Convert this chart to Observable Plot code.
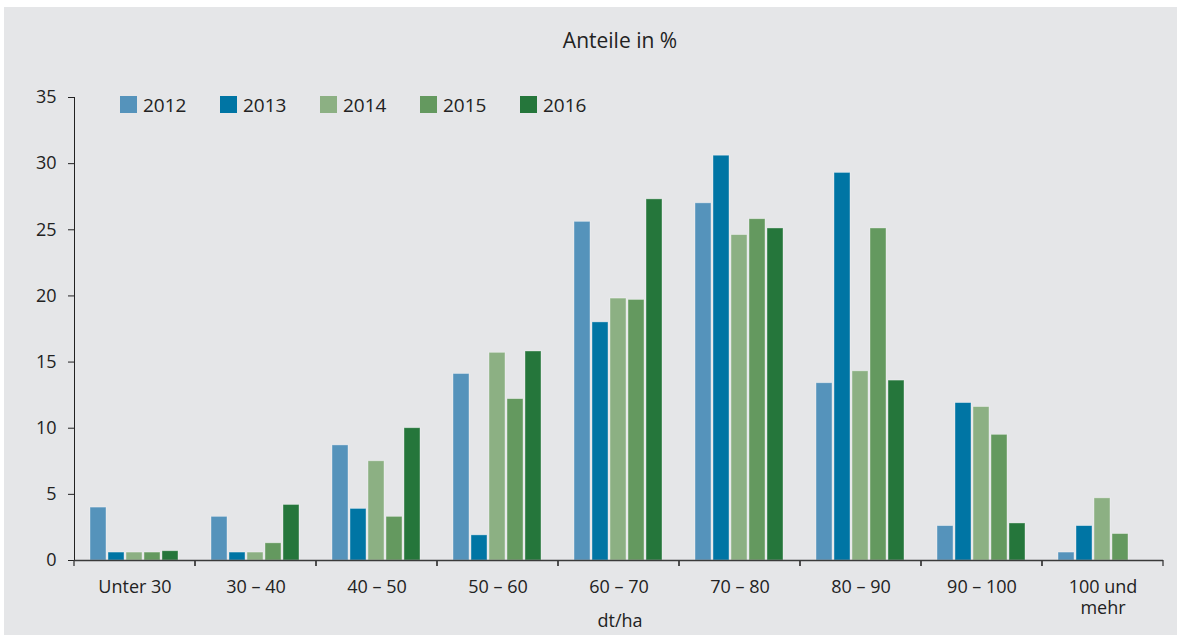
<!DOCTYPE html>
<html>
<head>
<meta charset="utf-8">
<script src="https://cdn.jsdelivr.net/npm/d3@7"></script>
<script src="https://cdn.jsdelivr.net/npm/@observablehq/plot@0.6"></script>
<style>
  html, body { margin: 0; padding: 0; background: #ffffff; }
  body { font-family: "Open Sans", sans-serif; color: #222; }
  #wrap { position: absolute; left: 4px; top: 7px; width: 1173px; height: 628px; background: #e5e6e8; overflow: hidden; }
  #title { position: absolute; left: 0; top: 19px; width: 1232px; text-align: center; font-size: 21px; line-height: 28px; }
  #legend { position: absolute; left: 116px; top: 84px; display: flex; }
  .item { display: flex; align-items: center; width: 100px; height: 27px; font-size: 19px; }
  .sw { width: 17px; height: 17px; margin-right: 6px; }
  #xlabel { position: absolute; left: 0; top: 600px; width: 1232px; text-align: center; font-size: 18px; line-height: 26px; }
  #chart { position: absolute; left: 0; top: 0; }
</style>
</head>
<body>
<div id="wrap">
  <div id="chart"></div>
  <div id="title">Anteile in %</div>
  <div id="legend"></div>
  <div id="xlabel">dt/ha</div>
</div>
<script>
// ---- Data ----
const categories = ["Unter 30", "30 – 40", "40 – 50", "50 – 60", "60 – 70", "70 – 80", "80 – 90", "90 – 100", "100 und\nmehr"];
const years = ["2012", "2013", "2014", "2015", "2016"];
const colors = ["#5593bb", "#0075a4", "#8cb083", "#64995f", "#25763b"];
const v2012 = [4.0, 3.3, 8.7, 14.1, 25.6, 27.0, 13.4, 2.6, 0.6];
const v2013 = [0.6, 0.6, 3.9, 1.9, 18.0, 30.6, 29.3, 11.9, 2.6];
const v2014 = [0.6, 0.6, 7.5, 15.7, 19.8, 24.6, 14.3, 11.6, 4.7];
const v2015 = [0.6, 1.3, 3.3, 12.2, 19.7, 25.8, 25.1, 9.5, 2.0];
const v2016 = [0.7, 4.2, 10.0, 15.8, 27.3, 25.1, 13.6, 2.8, null];
const yTicks = [0, 5, 10, 15, 20, 25, 30, 35];

const series = [v2012, v2013, v2014, v2015, v2016];
const table = [];
categories.forEach((c, i) => {
  years.forEach((y, j) => {
    const v = series[j][i];
    if (v != null) table.push({category: c, year: y, value: v});
  });
});

const axisColor = "#3a3a3a";

// ticks at the boundaries of each category band
function boundaryTicks(index, scales, values, dims) {
  let r;
  if (scales.x && typeof scales.x.range === "function") r = scales.x.range();
  else r = [dims.marginLeft, dims.width - dims.marginRight];
  const y0 = scales.y(0);
  const g = d3.create("svg:g").attr("stroke", axisColor).attr("stroke-width", 1.3);
  for (const x of r) {
    g.append("line").attr("x1", x).attr("x2", x).attr("y1", y0).attr("y2", y0 + 6);
  }
  return g.node();
}

const chart = Plot.plot({
  width: 1173,
  height: 628,
  marginLeft: 70,
  marginRight: 14,
  marginTop: 90,
  marginBottom: 75,
  style: {background: "transparent", fontFamily: "'Open Sans', sans-serif", fontSize: "18px", color: "#222"},
  fx: {domain: categories, padding: 0, axis: null},
  x: {domain: years, axis: null, paddingInner: 0.1, paddingOuter: 0.757},
  y: {domain: [0, 35], ticks: yTicks, tickSize: 6, tickPadding: 12, line: true, label: null, tickFormat: d => String(d)},
  color: {domain: years, range: colors},
  marks: [
    Plot.barY(table, {fx: "category", x: "year", y: "value", fill: "year", stroke: "#ffffff", strokeOpacity: 0.45, strokeWidth: 0.8}),
    Plot.ruleY([0], {stroke: axisColor, strokeWidth: 1.3}),
    boundaryTicks,
    Plot.axisFx({anchor: "bottom", tickSize: 0, tickPadding: 17, label: null, lineHeight: 1.2, fontSize: 18})
  ]
});
document.getElementById("chart").appendChild(chart);

// legend
const legend = document.getElementById("legend");
years.forEach((y, i) => {
  const item = document.createElement("div");
  item.className = "item";
  const sw = document.createElement("div");
  sw.className = "sw";
  sw.style.background = colors[i];
  const t = document.createElement("span");
  t.textContent = y;
  item.appendChild(sw);
  item.appendChild(t);
  legend.appendChild(item);
});
</script>
</body>
</html>
